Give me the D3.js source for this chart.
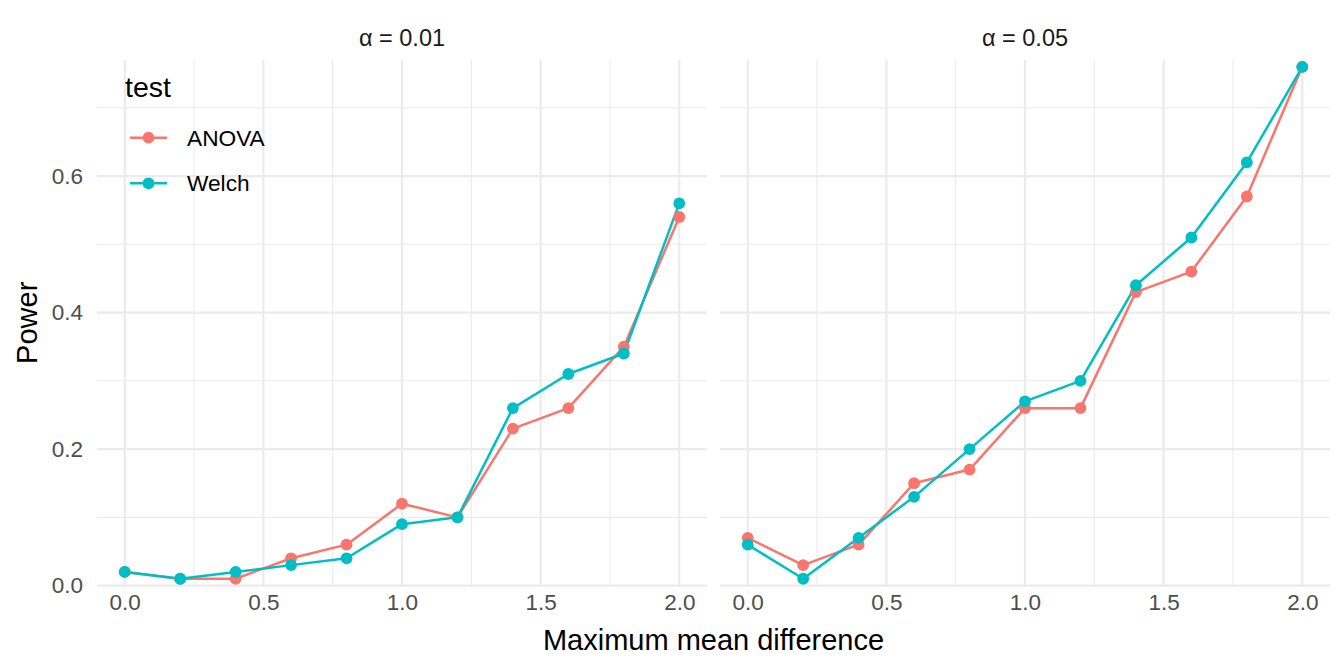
<!DOCTYPE html>
<html>
<head>
<meta charset="utf-8">
<script src="https://cdn.jsdelivr.net/npm/d3@7"></script>
<style>
  html, body { margin: 0; padding: 0; background: #fff; }
  svg { display: block; font-family: "Liberation Sans", Arial, sans-serif; }
  .grid-major { stroke: #ebebeb; stroke-width: 2.2; }
  .grid-minor { stroke: #ebebeb; stroke-width: 1.1; }
  .axis text { fill: #4d4d4d; font-size: 22.5px; }
  .axis path, .axis line { display: none; }
</style>
</head>
<body>
<div id="chart"></div>
<script>
// values
var mean_diff = [0.0, 0.2, 0.4, 0.6, 0.8, 1.0, 1.2, 1.4, 1.6, 1.8, 2.0];
var alpha_levels = ['0.01', '0.05'];
var tests = ['ANOVA', 'Welch'];

var anova_001 = [0.02, 0.01, 0.01, 0.04, 0.06, 0.12, 0.10, 0.23, 0.26, 0.35, 0.54];
var welch_001 = [0.02, 0.01, 0.02, 0.03, 0.04, 0.09, 0.10, 0.26, 0.31, 0.34, 0.56];
var anova_005 = [0.07, 0.03, 0.06, 0.15, 0.17, 0.26, 0.26, 0.43, 0.46, 0.57, 0.76];
var welch_005 = [0.06, 0.01, 0.07, 0.13, 0.20, 0.27, 0.30, 0.44, 0.51, 0.62, 0.76];

var x_ticks = [0, 0.5, 1, 1.5, 2];
var x_minor = [0.25, 0.75, 1.25, 1.75];
var y_ticks = [0, 0.2, 0.4, 0.6];
var y_minor = [0.1, 0.3, 0.5, 0.7];

var test_colors = ['#F8766D', '#00BFC4'];

var series = {
  '0.01': [anova_001, welch_001],
  '0.05': [anova_005, welch_005]
};

var W = 1344, H = 672;
var panel_top = 60, panel_bottom = 585.6;
var panels = [
  { alpha: '0.01', left: 97, right: 707 },
  { alpha: '0.05', left: 720, right: 1330 }
];

var svg = d3.select('#chart').append('svg')
  .attr('width', W)
  .attr('height', H);

var y = d3.scaleLinear()
  .domain([0, 0.77])
  .range([panel_bottom, panel_top]);

var color = d3.scaleOrdinal().domain(tests).range(test_colors);

function draw_panel(p, idx) {
  var x = d3.scaleLinear()
    .domain([-0.1, 2.1])
    .range([p.left, p.right]);

  var g = svg.append('g').attr('class', 'panel');

  // grid
  g.selectAll('.hm').data(y_minor).enter().append('line')
    .attr('class', 'grid-minor')
    .attr('x1', p.left).attr('x2', p.right)
    .attr('y1', d => y(d)).attr('y2', d => y(d));
  g.selectAll('.vm').data(x_minor).enter().append('line')
    .attr('class', 'grid-minor')
    .attr('y1', panel_top).attr('y2', panel_bottom)
    .attr('x1', d => x(d)).attr('x2', d => x(d));
  g.selectAll('.hM').data(y_ticks).enter().append('line')
    .attr('class', 'grid-major')
    .attr('x1', p.left).attr('x2', p.right)
    .attr('y1', d => y(d)).attr('y2', d => y(d));
  g.selectAll('.vM').data(x_ticks).enter().append('line')
    .attr('class', 'grid-major')
    .attr('y1', panel_top).attr('y2', panel_bottom)
    .attr('x1', d => x(d)).attr('x2', d => x(d));

  // x axis labels
  svg.append('g')
    .attr('class', 'axis x-axis')
    .attr('transform', `translate(0, ${ panel_bottom })`)
    .call(d3.axisBottom(x)
          .tickValues(x_ticks)
          .tickSize(0)
          .tickPadding(8)
          .tickFormat(d3.format('.1f')));

  if (idx == 0) {
    svg.append('g')
      .attr('class', 'axis y-axis')
      .attr('transform', `translate(${ p.left }, 0)`)
      .call(d3.axisLeft(y)
            .tickValues(y_ticks)
            .tickSize(0)
            .tickPadding(14)
            .tickFormat(d3.format('.1f')));
  }

  // strip label
  svg.append('text')
    .attr('x', (p.left + p.right) / 2)
    .attr('y', 46)
    .attr('text-anchor', 'middle')
    .attr('font-size', 23.5)
    .attr('fill', '#1a1a1a')
    .text('\u03b1 = ' + p.alpha);

  var line = d3.line()
    .x((d, i) => x(mean_diff[i]))
    .y(d => y(d));

  var vals = series[p.alpha];

  vals.forEach((v, k) => {
    g.append('path')
      .datum(v)
      .attr('fill', 'none')
      .attr('stroke', color(tests[k]))
      .attr('stroke-width', 2.5)
      .attr('stroke-linejoin', 'round')
      .attr('d', line);
  });

  vals.forEach((v, k) => {
    g.selectAll('.pt' + k).data(v).enter().append('circle')
      .attr('cx', (d, i) => x(mean_diff[i]))
      .attr('cy', d => y(d))
      .attr('r', 5.9)
      .attr('fill', color(tests[k]));
  });
};

panels.forEach(draw_panel);

// axis titles
svg.append('text')
  .attr('x', (panels[0].left + panels[1].right) / 2)
  .attr('y', 650)
  .attr('text-anchor', 'middle')
  .attr('font-size', 29)
  .attr('fill', '#000')
  .text('Maximum mean difference');

svg.append('text')
  .attr('transform', `translate(37, ${ (panel_top + panel_bottom) / 2 }) rotate(-90)`)
  .attr('text-anchor', 'middle')
  .attr('font-size', 29)
  .attr('fill', '#000')
  .text('Power');

// legend
var lg = svg.append('g').attr('class', 'legend');

lg.append('text')
  .attr('x', 125)
  .attr('y', 97)
  .attr('font-size', 28.5)
  .attr('fill', '#000')
  .text('test');

tests.forEach((t, k) => {
  var cy = 137.7 + k * 45.6;
  lg.append('line')
    .attr('x1', 130).attr('x2', 167)
    .attr('y1', cy).attr('y2', cy)
    .attr('stroke', color(t))
    .attr('stroke-width', 2.5);
  lg.append('circle')
    .attr('cx', 148.5).attr('cy', cy)
    .attr('r', 5.9)
    .attr('fill', color(t));
  lg.append('text')
    .attr('x', 187)
    .attr('y', cy + 8)
    .attr('font-size', 22.7)
    .attr('fill', '#000')
    .text(t);
});
</script>
</body>
</html>
